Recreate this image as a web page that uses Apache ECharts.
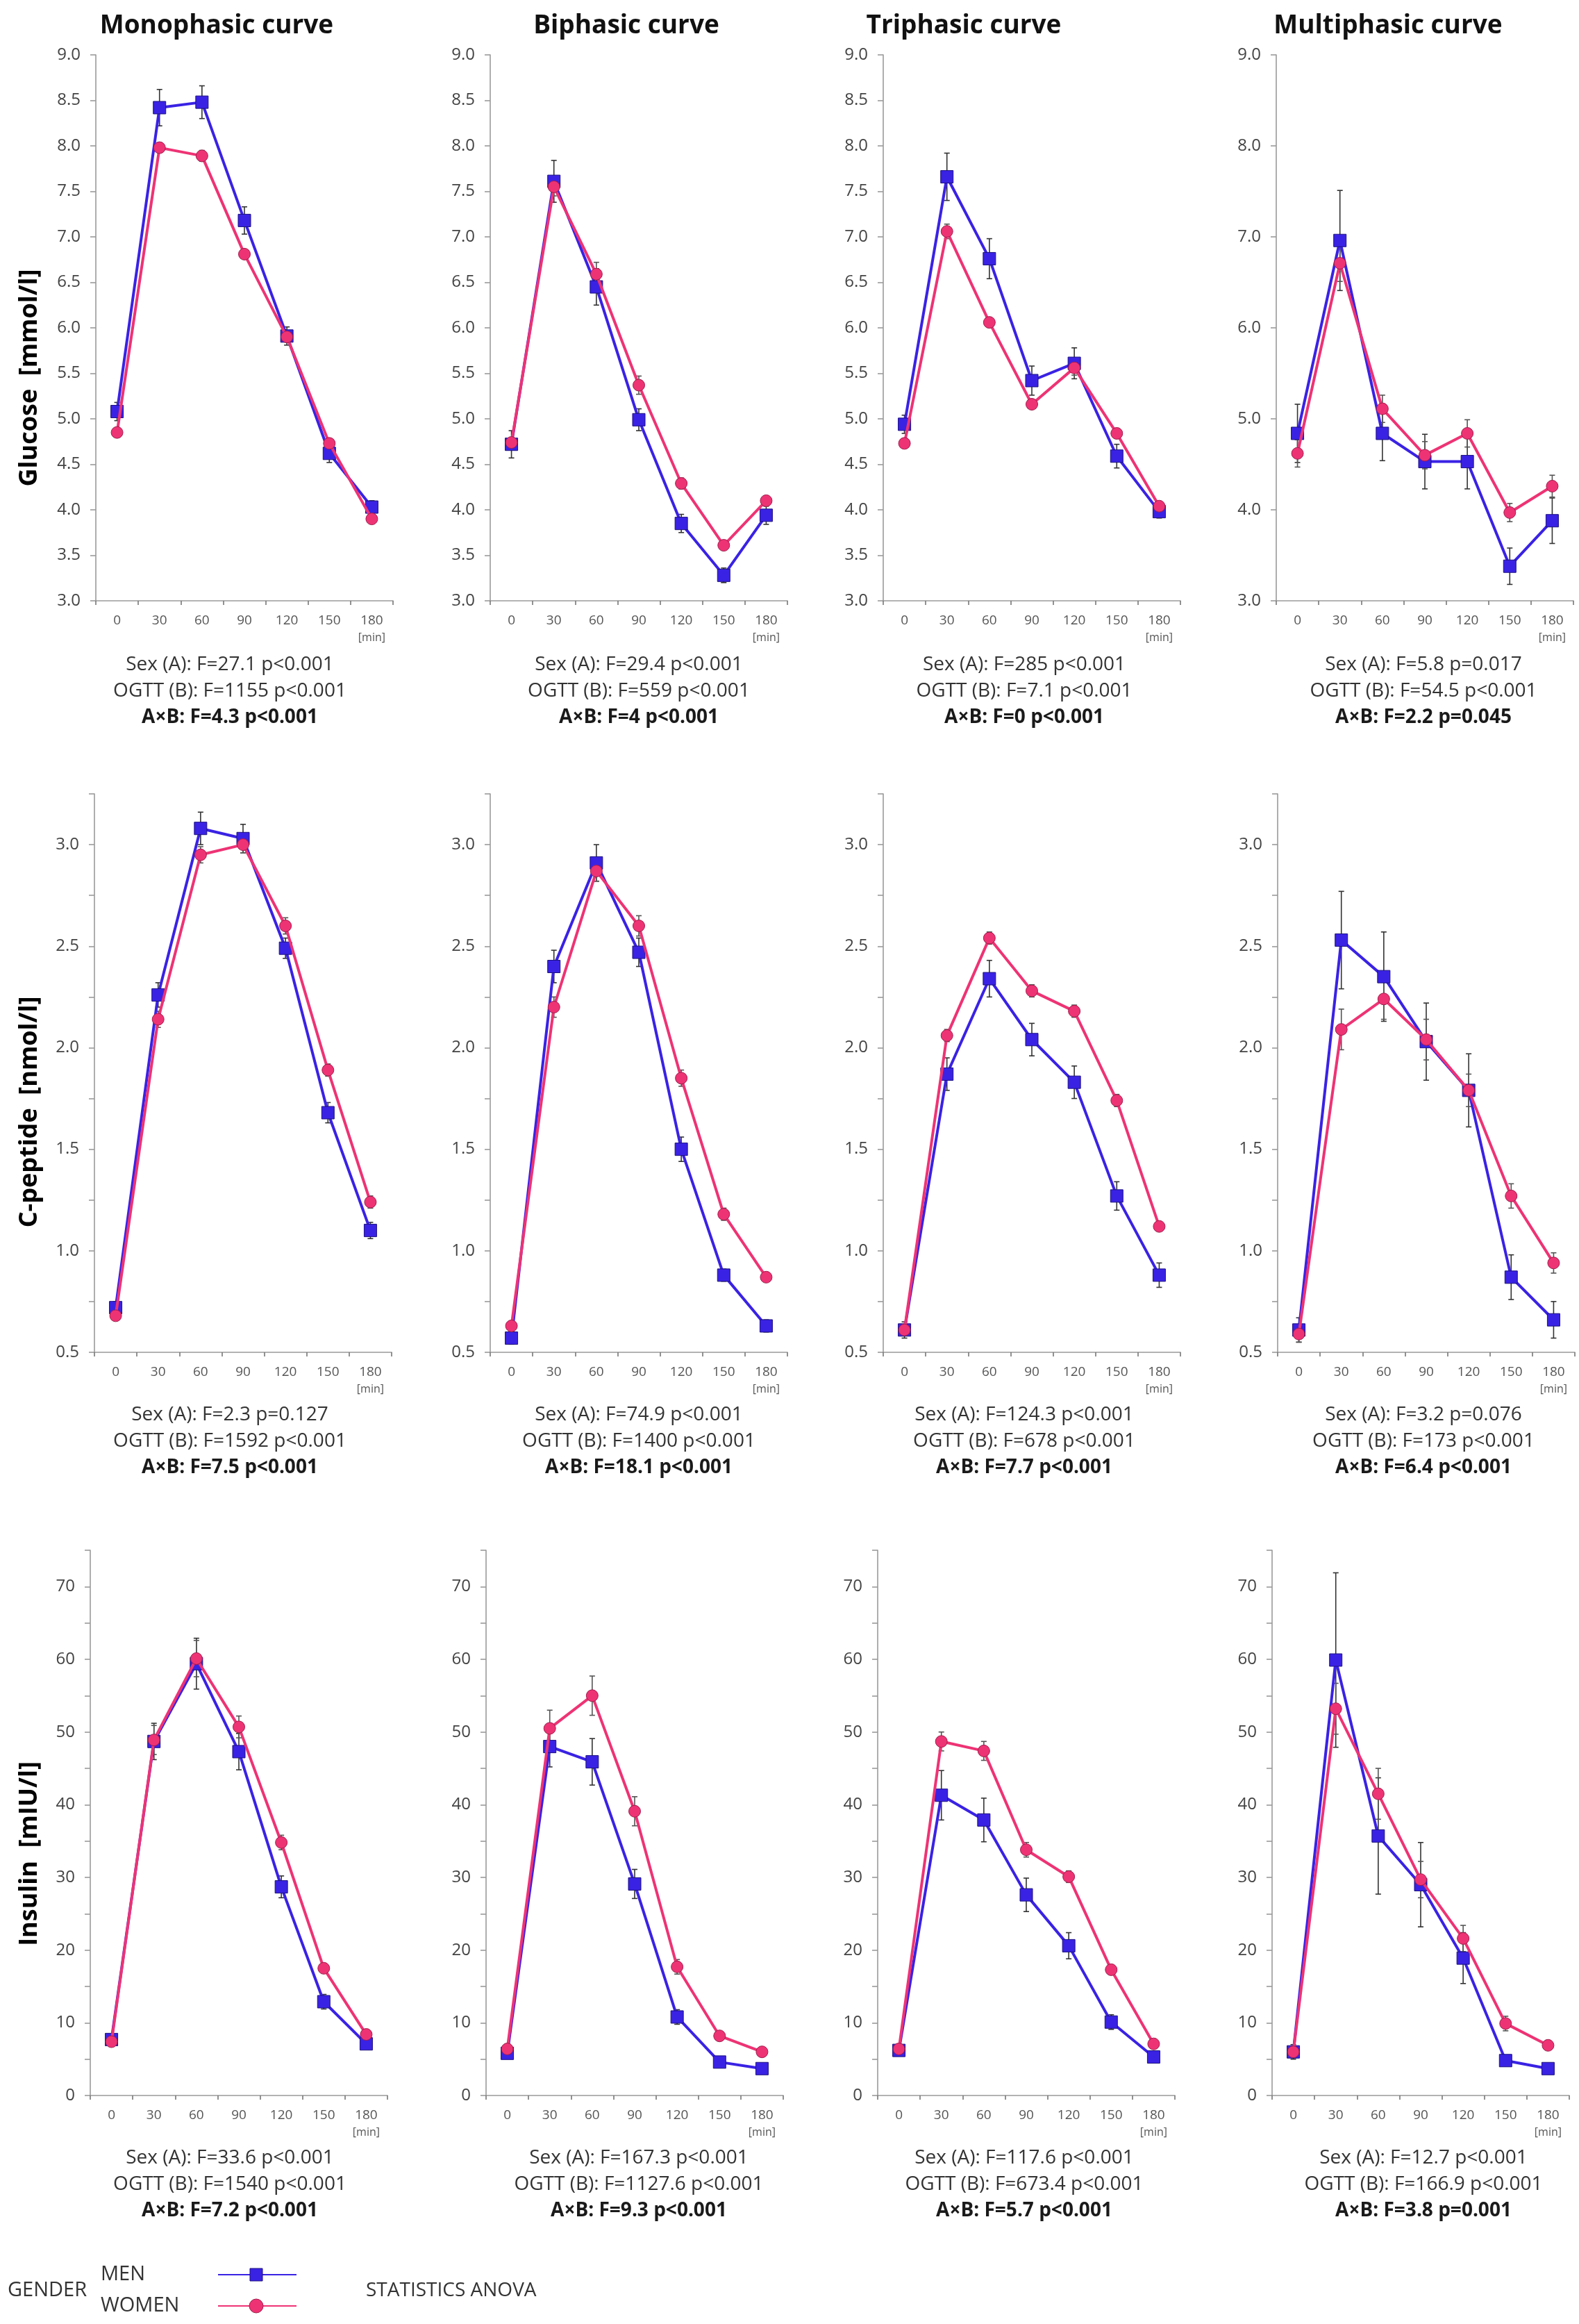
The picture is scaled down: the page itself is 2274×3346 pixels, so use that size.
<!DOCTYPE html>
<html>
<head>
<meta charset="utf-8">
<script src="https://cdn.jsdelivr.net/npm/echarts@6/dist/echarts.min.js"></script>
<style>
  html, body { margin: 0; padding: 0; background: #fff; }
  #chart { width: 2274px; height: 3346px; }
</style>
</head>
<body>
<div id="chart"></div>
<script>
// ---- data ----
const TIMES = ['0', '30', '60', '90', '120', '150', '180'];
const PANEL_TITLES = ['Monophasic curve', 'Biphasic curve', 'Triphasic curve', 'Multiphasic curve'];
const Y_TITLES = ['Glucose  [mmol/l]', 'C-peptide  [nmol/l]', 'Insulin  [mIU/l]'];

const GLUCOSE_MEN = [
  [5.08, 8.42, 8.48, 7.18, 5.91, 4.62, 4.03],
  [4.72, 7.61, 6.45, 4.99, 3.85, 3.28, 3.94],
  [4.94, 7.66, 6.76, 5.42, 5.61, 4.59, 3.98],
  [4.84, 6.96, 4.84, 4.53, 4.53, 3.38, 3.88]
];
const GLUCOSE_WOMEN = [
  [4.85, 7.98, 7.89, 6.81, 5.90, 4.73, 3.90],
  [4.74, 7.55, 6.59, 5.37, 4.29, 3.61, 4.10],
  [4.73, 7.06, 6.06, 5.16, 5.56, 4.84, 4.04],
  [4.62, 6.71, 5.11, 4.60, 4.84, 3.97, 4.26]
];
const GLUCOSE_MEN_SE = [
  [0.10, 0.20, 0.18, 0.15, 0.10, 0.10, 0.07],
  [0.15, 0.23, 0.20, 0.12, 0.10, 0.08, 0.10],
  [0.10, 0.26, 0.22, 0.16, 0.17, 0.13, 0.07],
  [0.32, 0.55, 0.30, 0.30, 0.30, 0.20, 0.25]
];
const GLUCOSE_WOMEN_SE = [
  [0.04, 0.05, 0.06, 0.03, 0.05, 0.04, 0.03],
  [0.05, 0.10, 0.13, 0.10, 0.06, 0.04, 0.05],
  [0.05, 0.08, 0.05, 0.05, 0.08, 0.05, 0.04],
  [0.15, 0.20, 0.15, 0.15, 0.15, 0.10, 0.12]
];

const CPEP_MEN = [
  [0.72, 2.26, 3.08, 3.03, 2.49, 1.68, 1.10],
  [0.57, 2.40, 2.91, 2.47, 1.50, 0.88, 0.63],
  [0.61, 1.87, 2.34, 2.04, 1.83, 1.27, 0.88],
  [0.61, 2.53, 2.35, 2.03, 1.79, 0.87, 0.66]
];
const CPEP_WOMEN = [
  [0.68, 2.14, 2.95, 3.00, 2.60, 1.89, 1.24],
  [0.63, 2.20, 2.87, 2.60, 1.85, 1.18, 0.87],
  [0.61, 2.06, 2.54, 2.28, 2.18, 1.74, 1.12],
  [0.59, 2.09, 2.24, 2.04, 1.79, 1.27, 0.94]
];
const CPEP_MEN_SE = [
  [0.03, 0.06, 0.08, 0.07, 0.05, 0.05, 0.04],
  [0.03, 0.08, 0.09, 0.07, 0.06, 0.03, 0.03],
  [0.04, 0.08, 0.09, 0.08, 0.08, 0.07, 0.06],
  [0.06, 0.24, 0.22, 0.19, 0.18, 0.11, 0.09]
];
const CPEP_WOMEN_SE = [
  [0.02, 0.04, 0.04, 0.04, 0.04, 0.03, 0.03],
  [0.02, 0.05, 0.05, 0.05, 0.04, 0.03, 0.02],
  [0.02, 0.03, 0.03, 0.03, 0.03, 0.03, 0.02],
  [0.04, 0.10, 0.10, 0.10, 0.08, 0.06, 0.05]
];

const INSULIN_MEN = [
  [7.7, 48.7, 59.4, 47.3, 28.7, 12.9, 7.1],
  [5.8, 48.0, 45.9, 29.1, 10.8, 4.6, 3.7],
  [6.2, 41.3, 37.9, 27.6, 20.6, 10.1, 5.3],
  [6.0, 59.9, 35.7, 29.0, 18.9, 4.8, 3.7]
];
const INSULIN_WOMEN = [
  [7.4, 48.9, 60.1, 50.7, 34.8, 17.5, 8.4],
  [6.4, 50.5, 55.0, 39.1, 17.7, 8.2, 6.0],
  [6.4, 48.7, 47.4, 33.8, 30.1, 17.3, 7.1],
  [6.0, 53.2, 41.5, 29.7, 21.6, 9.9, 6.9]
];
const INSULIN_MEN_SE = [
  [0.5, 2.5, 3.5, 2.5, 1.5, 1.0, 0.6],
  [0.5, 2.8, 3.2, 2.0, 1.0, 0.5, 0.4],
  [0.5, 3.4, 3.0, 2.3, 1.8, 1.0, 0.5],
  [1.0, 12.0, 8.0, 5.8, 3.5, 0.7, 0.5]
];
const INSULIN_WOMEN_SE = [
  [0.5, 2.0, 2.5, 1.5, 1.0, 0.6, 0.5],
  [0.5, 2.5, 2.7, 2.0, 1.0, 0.6, 0.4],
  [0.5, 1.3, 1.3, 1.0, 0.8, 0.6, 0.4],
  [0.5, 3.5, 3.5, 2.5, 1.8, 1.0, 0.6]
];

const STATS_GLUCOSE = [
  ['Sex (A): F=27.1 p<0.001', 'OGTT (B): F=1155 p<0.001', 'A×B: F=4.3 p<0.001'],
  ['Sex (A): F=29.4 p<0.001', 'OGTT (B): F=559 p<0.001', 'A×B: F=4 p<0.001'],
  ['Sex (A): F=285 p<0.001', 'OGTT (B): F=7.1 p<0.001', 'A×B: F=0 p<0.001'],
  ['Sex (A): F=5.8 p=0.017', 'OGTT (B): F=54.5 p<0.001', 'A×B: F=2.2 p=0.045']
];
const STATS_CPEP = [
  ['Sex (A): F=2.3 p=0.127', 'OGTT (B): F=1592 p<0.001', 'A×B: F=7.5 p<0.001'],
  ['Sex (A): F=74.9 p<0.001', 'OGTT (B): F=1400 p<0.001', 'A×B: F=18.1 p<0.001'],
  ['Sex (A): F=124.3 p<0.001', 'OGTT (B): F=678 p<0.001', 'A×B: F=7.7 p<0.001'],
  ['Sex (A): F=3.2 p=0.076', 'OGTT (B): F=173 p<0.001', 'A×B: F=6.4 p<0.001']
];
const STATS_INSULIN = [
  ['Sex (A): F=33.6 p<0.001', 'OGTT (B): F=1540 p<0.001', 'A×B: F=7.2 p<0.001'],
  ['Sex (A): F=167.3 p<0.001', 'OGTT (B): F=1127.6 p<0.001', 'A×B: F=9.3 p<0.001'],
  ['Sex (A): F=117.6 p<0.001', 'OGTT (B): F=673.4 p<0.001', 'A×B: F=5.7 p<0.001'],
  ['Sex (A): F=12.7 p<0.001', 'OGTT (B): F=166.9 p<0.001', 'A×B: F=3.8 p=0.001']
];

// ---- style ----
const FONT = "'Open Sans', 'DejaVu Sans', sans-serif";
const MEN_COLOR = '#3a22e4';
const WOMEN_COLOR = '#ee3374';
const AXIS_COLOR = '#9a9a9a';

// one row per measure; layout in px
const rows = [
  {
    men: GLUCOSE_MEN, women: GLUCOSE_WOMEN, menSe: GLUCOSE_MEN_SE, womenSe: GLUCOSE_WOMEN_SE,
    stats: STATS_GLUCOSE, min: 3, max: 9, step: [0.5, 0.5, 0.5, 1], labelStep: [0.5, 0.5, 0.5, 1], digits: 1,
    top: 79, height: 786, lefts: [138, 706, 1272, 1838], statsY: [957, 995, 1033], titleY: 544
  },
  {
    men: CPEP_MEN, women: CPEP_WOMEN, menSe: CPEP_MEN_SE, womenSe: CPEP_WOMEN_SE,
    stats: STATS_CPEP, min: 0.5, max: 3.25, step: [0.25, 0.25, 0.25, 0.25], labelStep: [0.5, 0.5, 0.5, 0.5], digits: 1,
    top: 1143, height: 804, lefts: [136, 706, 1272, 1840], statsY: [2037, 2075, 2113], titleY: 1601
  },
  {
    men: INSULIN_MEN, women: INSULIN_WOMEN, menSe: INSULIN_MEN_SE, womenSe: INSULIN_WOMEN_SE,
    stats: STATS_INSULIN, min: 0, max: 75, step: [5, 5, 5, 5], labelStep: [10, 10, 10, 10], digits: 0,
    top: 2232, height: 785, lefts: [130, 700, 1264, 1832], statsY: [3107, 3145, 3183], titleY: 2669
  }
];
const PLOT_WIDTH = 428;
const STATS_X = [331, 920, 1475, 2050];
const TITLE_X = [312, 902, 1388, 1999];

function errorBar(color) {
  return function (params, api) {
    const i = api.value(0);
    const lo = api.coord([i, api.value(1)]);
    const hi = api.coord([i, api.value(2)]);
    const cap = 4;
    const st = { stroke: color, lineWidth: 1.6 };
    return {
      type: 'group',
      children: [
        { type: 'line', shape: { x1: lo[0], y1: lo[1], x2: hi[0], y2: hi[1] }, style: st },
        { type: 'line', shape: { x1: hi[0] - cap, y1: hi[1], x2: hi[0] + cap, y2: hi[1] }, style: st },
        { type: 'line', shape: { x1: lo[0] - cap, y1: lo[1], x2: lo[0] + cap, y2: lo[1] }, style: st }
      ]
    };
  };
}

const grid = [], xAxis = [], yAxis = [], series = [], graphic = [];

rows.forEach((row, r) => {
  for (let c = 0; c < 4; c++) {
    const k = grid.length;
    grid.push({ left: row.lefts[c], top: row.top, width: PLOT_WIDTH, height: row.height });
    xAxis.push({
      type: 'category', gridIndex: k, data: TIMES, boundaryGap: true,
      axisLine: { lineStyle: { color: AXIS_COLOR, width: 1.6 } },
      axisTick: { show: true, inside: false, length: 6, interval: 0, lineStyle: { color: '#777', width: 1.6 } },
      axisLabel: {
        interval: 0, margin: 16, color: '#555', fontFamily: FONT, fontSize: 19, lineHeight: 25,
        formatter: (v, idx) => idx === TIMES.length - 1 ? v + '\n{u|[min]}' : v,
        rich: { u: { fontSize: 16, lineHeight: 25, color: '#555', fontFamily: FONT } }
      }
    });
    const ls = row.labelStep[c];
    yAxis.push({
      type: 'value', gridIndex: k, min: row.min, max: row.max, interval: row.step[c],
      splitLine: { show: false },
      axisLine: { show: true, lineStyle: { color: AXIS_COLOR, width: 1.6 } },
      axisTick: { show: true, inside: false, length: 8, lineStyle: { color: AXIS_COLOR, width: 1.6 } },
      axisLabel: {
        margin: 22, color: '#444', fontFamily: FONT, fontSize: 24,
        formatter: v => {
          const q = v / ls;
          return Math.abs(q - Math.round(q)) < 1e-6 ? v.toFixed(row.digits) : '';
        }
      }
    });

    const menErr = row.men[c].map((v, i) => [i, v - row.menSe[c][i], v + row.menSe[c][i]]);
    const womenErr = row.women[c].map((v, i) => [i, v - row.womenSe[c][i], v + row.womenSe[c][i]]);
    series.push({
      type: 'custom', xAxisIndex: k, yAxisIndex: k, z: 1, silent: true,
      renderItem: errorBar('#333'), encode: { x: 0, y: [1, 2] }, data: menErr
    });
    series.push({
      type: 'custom', xAxisIndex: k, yAxisIndex: k, z: 1, silent: true,
      renderItem: errorBar('#555'), encode: { x: 0, y: [1, 2] }, data: womenErr
    });
    series.push({
      name: 'MEN', type: 'line', xAxisIndex: k, yAxisIndex: k, z: 3,
      data: row.men[c], symbol: 'rect', symbolSize: 18, animation: false,
      lineStyle: { color: MEN_COLOR, width: 4 },
      itemStyle: { color: MEN_COLOR, borderColor: '#1c1180', borderWidth: 1 }
    });
    series.push({
      name: 'WOMEN', type: 'line', xAxisIndex: k, yAxisIndex: k, z: 4,
      data: row.women[c], symbol: 'circle', symbolSize: 17, animation: false,
      lineStyle: { color: WOMEN_COLOR, width: 4 },
      itemStyle: { color: WOMEN_COLOR, borderColor: '#a01c4c', borderWidth: 1 }
    });

    // ANOVA lines under each panel
    row.stats[c].forEach((txt, j) => {
      graphic.push({
        type: 'text', x: STATS_X[c], y: row.statsY[j],
        style: {
          text: txt, align: 'center', verticalAlign: 'middle',
          fontFamily: FONT, fontSize: 28, fontWeight: j === 2 ? 'bold' : 'normal',
          fill: j === 2 ? '#1a1a1a' : '#333'
        }
      });
    });
  }
  graphic.push({
    type: 'text', x: 43, y: row.titleY, rotation: Math.PI / 2,
    style: {
      text: Y_TITLES[r], align: 'center', verticalAlign: 'middle',
      fontFamily: FONT, fontSize: 36, fontWeight: 'bold', fill: '#000'
    }
  });
});

PANEL_TITLES.forEach((t, c) => {
  graphic.push({
    type: 'text', x: TITLE_X[c], y: 37,
    style: { text: t, align: 'center', verticalAlign: 'middle', fontFamily: FONT, fontSize: 37, fontWeight: 'bold', fill: '#111' }
  });
});

// legend block at the bottom
const legendText = (t, x, y, size) => ({
  type: 'text', x: x, y: y,
  style: { text: t, align: 'left', verticalAlign: 'middle', fontFamily: FONT, fontSize: size, fill: '#333' }
});
graphic.push(legendText('GENDER', 11, 3298, 29));
graphic.push(legendText('MEN', 145, 3275, 29));
graphic.push(legendText('WOMEN', 145, 3320, 29));
graphic.push(legendText('STATISTICS ANOVA', 527, 3298, 28));
graphic.push({ type: 'line', shape: { x1: 314, y1: 3275, x2: 427, y2: 3275 }, style: { stroke: MEN_COLOR, lineWidth: 2 } });
graphic.push({ type: 'rect', shape: { x: 360, y: 3266, width: 18, height: 18 }, style: { fill: MEN_COLOR, stroke: '#1c1180', lineWidth: 1 } });
graphic.push({ type: 'line', shape: { x1: 314, y1: 3320, x2: 427, y2: 3320 }, style: { stroke: WOMEN_COLOR, lineWidth: 2 } });
graphic.push({ type: 'circle', shape: { cx: 369, cy: 3320, r: 10 }, style: { fill: WOMEN_COLOR, stroke: '#a01c4c', lineWidth: 1 } });

const chart = echarts.init(document.getElementById('chart'));
chart.setOption({
  backgroundColor: '#fff',
  animation: false,
  grid: grid,
  xAxis: xAxis,
  yAxis: yAxis,
  series: series,
  graphic: graphic
});
</script>
</body>
</html>
